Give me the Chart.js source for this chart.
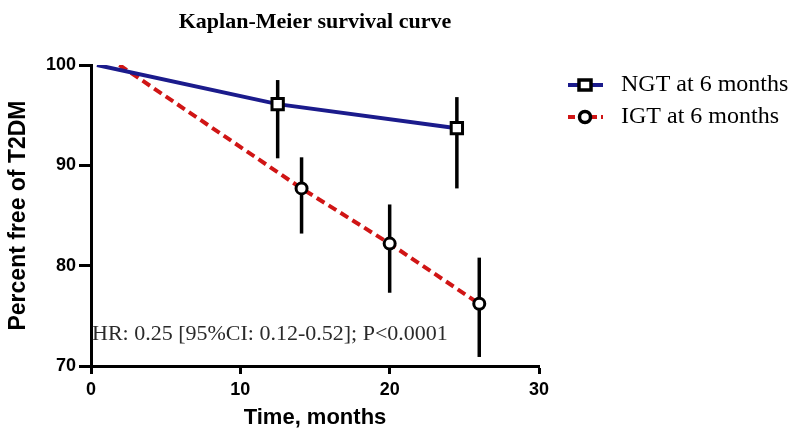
<!DOCTYPE html>
<html>
<head>
<meta charset="utf-8">
<script src="https://cdn.jsdelivr.net/npm/chart.js@4.4.1/dist/chart.umd.min.js"></script>
<style>
  html, body { margin: 0; padding: 0; background: #ffffff; }
  #wrap { width: 794px; height: 432px; position: relative; }
</style>
</head>
<body>
<div id="wrap"><canvas id="c" width="794" height="432"></canvas></div>
<script>
// ---- Data ----
const chartTitle = "Kaplan-Meier survival curve";
const xTitle = "Time, months";
const yTitle = "Percent free of T2DM";
const annotationText = "HR: 0.25 [95%CI: 0.12-0.52]; P<0.0001";

const seriesNames = ["NGT at 6 months", "IGT at 6 months"];

const ngtTime = [0.4, 12.5, 24.5];
const ngtSurv = [100, 96.1, 93.7];
const ngtLow  = [null, 90.7, 87.7];
const ngtHigh = [null, 98.5, 96.8];

const igtTime = [1.9, 14.1, 20.0, 26.0];
const igtSurv = [100, 87.7, 82.2, 76.2];
const igtLow  = [null, 83.2, 77.3, 70.9];
const igtHigh = [null, 90.8, 86.1, 80.8];

const xTicks = [0, 10, 20, 30];
const yTicks = [70, 80, 90, 100];

// ---- Styles ----
const BLUE = "#1b1b8c";
const RED = "#d01515";

function toPts(xs, ys) { return xs.map((x, i) => ({ x: x, y: ys[i] })); }

const errorBarPlugin = {
  id: "errorBars",
  beforeDatasetsDraw(chart) {
    const ctx = chart.ctx, xs = chart.scales.x, ys = chart.scales.y;
    const sets = [[ngtTime, ngtLow, ngtHigh], [igtTime, igtLow, igtHigh]];
    ctx.save();
    ctx.strokeStyle = "#000";
    ctx.lineWidth = 3.5;
    sets.forEach(([t, lo, hi]) => {
      t.forEach((tv, i) => {
        if (lo[i] == null) return;
        const px = xs.getPixelForValue(tv);
        ctx.beginPath();
        ctx.moveTo(px, ys.getPixelForValue(lo[i]));
        ctx.lineTo(px, ys.getPixelForValue(hi[i]));
        ctx.stroke();
      });
    });
    ctx.restore();
  }
};

const decorPlugin = {
  id: "decor",
  afterDraw(chart) {
    const ctx = chart.ctx;
    const area = chart.chartArea;
    ctx.save();
    // Title
    ctx.fillStyle = "#000";
    ctx.font = "bold 22px 'Liberation Serif', 'Times New Roman', serif";
    ctx.textAlign = "center";
    ctx.textBaseline = "alphabetic";
    ctx.fillText(chartTitle, (area.left + area.right) / 2, 28);

    // Annotation
    ctx.fillStyle = "#2a2a2a";
    ctx.font = "22px 'Liberation Serif', 'Times New Roman', serif";
    ctx.textAlign = "left";
    ctx.fillText(annotationText, area.left + 1, 340);

    // Legend
    const rows = [
      { name: seriesNames[0], color: BLUE, dash: [], shape: "rect", y: 85 },
      { name: seriesNames[1], color: RED, dash: [7, 4], shape: "circle", y: 117 }
    ];
    rows.forEach(r => {
      ctx.save();
      ctx.strokeStyle = r.color;
      ctx.lineWidth = 4;
      ctx.setLineDash(r.dash);
      ctx.beginPath();
      ctx.moveTo(568, r.y);
      ctx.lineTo(603, r.y);
      ctx.stroke();
      ctx.restore();
      ctx.save();
      ctx.strokeStyle = "#000";
      ctx.fillStyle = "#fff";
      ctx.lineWidth = 3.5;
      ctx.beginPath();
      if (r.shape === "rect") {
        ctx.rect(585 - 6, r.y - 5, 12, 10);
      } else {
        ctx.arc(585, r.y, 5.5, 0, Math.PI * 2);
      }
      ctx.fill();
      ctx.stroke();
      ctx.restore();
      ctx.fillStyle = "#000";
      ctx.font = "24px 'Liberation Serif', 'Times New Roman', serif";
      ctx.textAlign = "left";
      ctx.textBaseline = "middle";
      ctx.fillText(r.name, 621, r.y);
    });
    ctx.restore();
  }
};

new Chart(document.getElementById("c"), {
  type: "line",
  data: {
    datasets: [
      {
        label: seriesNames[0],
        data: toPts(ngtTime, ngtSurv),
        borderColor: BLUE,
        borderWidth: 4,
        tension: 0,
        pointStyle: "rect",
        pointRadius: ngtTime.map((t, i) => i === 0 ? 0 : 8),
        pointBackgroundColor: "#fff",
        pointBorderColor: "#000",
        pointBorderWidth: 3
      },
      {
        label: seriesNames[1],
        data: toPts(igtTime, igtSurv),
        borderColor: RED,
        borderWidth: 4,
        borderDash: [9, 5],
        tension: 0,
        pointStyle: "circle",
        pointRadius: igtTime.map((t, i) => i === 0 ? 0 : 5.5),
        pointBackgroundColor: "#fff",
        pointBorderColor: "#000",
        pointBorderWidth: 3
      }
    ]
  },
  options: {
    responsive: false,
    animation: false,
    devicePixelRatio: 1,
    layout: { padding: { top: 65, right: 255, left: 0, bottom: 0 } },
    plugins: {
      legend: { display: false },
      title: { display: false },
      tooltip: { enabled: false }
    },
    scales: {
      x: {
        type: "linear",
        min: 0, max: 30,
        afterFit(scale) { scale.height = 66; },
        afterBuildTicks(scale) { scale.ticks = xTicks.map(v => ({ value: v })); },
        border: { display: true, color: "#000", width: 3 },
        grid: { display: true, drawOnChartArea: false, drawTicks: true, tickLength: 8, tickWidth: 3, tickColor: "#000" },
        ticks: { color: "#000", padding: 5, font: { family: "'Liberation Sans', Arial, sans-serif", size: 18, weight: "bold" } },
        title: {
          display: true, text: xTitle, color: "#000",
          padding: { top: 0, bottom: 1 },
          font: { family: "'Liberation Sans', Arial, sans-serif", size: 22, weight: "bold" }
        }
      },
      y: {
        type: "linear",
        min: 70, max: 100,
        afterFit(scale) { scale.width = 91; },
        afterBuildTicks(scale) { scale.ticks = yTicks.map(v => ({ value: v })); },
        border: { display: true, color: "#000", width: 3 },
        grid: { display: true, drawOnChartArea: false, drawTicks: true, tickLength: 12, tickWidth: 3, tickColor: "#000" },
        ticks: { color: "#000", padding: 3, font: { family: "'Liberation Sans', Arial, sans-serif", size: 18, weight: "bold" } },
        title: {
          display: true, text: yTitle, color: "#000",
          padding: { top: 5, bottom: 0 },
          font: { family: "'Liberation Sans', Arial, sans-serif", size: 23, weight: "bold" }
        }
      }
    }
  },
  plugins: [errorBarPlugin, decorPlugin]
});
</script>
</body>
</html>
